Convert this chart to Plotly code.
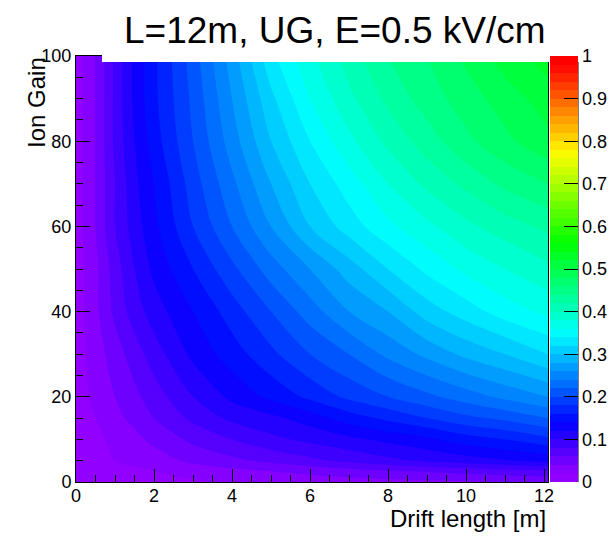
import colorsys
import plotly.graph_objects as go

# ---- data ----
drift_length = [0, 0.5, 1, 1.5, 2, 3, 4, 5, 6, 7, 8, 9, 10, 11, 12.1]   # m
ion_gain = [0, 2.5, 5, 10, 15, 20, 30, 40, 50, 60, 70, 80, 90, 100]
row_g0 = [0.005, 0.008, 0.01, 0.012, 0.015, 0.018, 0.021, 0.024, 0.027, 0.03, 0.033, 0.035, 0.037, 0.04, 0.042]
row_g2 = [0.007, 0.01, 0.013, 0.016, 0.02, 0.027, 0.034, 0.04, 0.046, 0.052, 0.057, 0.062, 0.067, 0.072, 0.077]
row_g5 = [0.008, 0.013, 0.02, 0.025, 0.03, 0.045, 0.055, 0.065, 0.075, 0.085, 0.095, 0.103, 0.11, 0.118, 0.125]
row_g10 = [0.01, 0.015, 0.025, 0.035, 0.045, 0.065, 0.08, 0.095, 0.105, 0.115, 0.125, 0.135, 0.15, 0.16, 0.175]
row_g15 = [0.01, 0.02, 0.035, 0.045, 0.06, 0.085, 0.105, 0.115, 0.13, 0.15, 0.165, 0.18, 0.195, 0.205, 0.22]
row_g20 = [0.01, 0.025, 0.04, 0.055, 0.07, 0.10, 0.125, 0.145, 0.165, 0.185, 0.20, 0.215, 0.23, 0.245, 0.26]
row_g30 = [0.01, 0.03, 0.05, 0.07, 0.09, 0.125, 0.15, 0.175, 0.20, 0.22, 0.245, 0.265, 0.285, 0.30, 0.32]
row_g40 = [0.01, 0.035, 0.065, 0.09, 0.11, 0.14, 0.17, 0.20, 0.23, 0.26, 0.28, 0.31, 0.33, 0.35, 0.365]
row_g50 = [0.01, 0.035, 0.07, 0.10, 0.125, 0.16, 0.195, 0.23, 0.26, 0.29, 0.32, 0.345, 0.365, 0.38, 0.395]
row_g60 = [0.01, 0.04, 0.08, 0.11, 0.135, 0.18, 0.22, 0.26, 0.30, 0.33, 0.355, 0.375, 0.395, 0.41, 0.425]
row_g70 = [0.01, 0.04, 0.08, 0.115, 0.14, 0.19, 0.235, 0.28, 0.32, 0.35, 0.38, 0.405, 0.425, 0.445, 0.46]
row_g80 = [0.01, 0.04, 0.085, 0.12, 0.15, 0.20, 0.25, 0.30, 0.34, 0.375, 0.405, 0.43, 0.455, 0.475, 0.495]
row_g90 = [0.01, 0.04, 0.085, 0.125, 0.155, 0.205, 0.26, 0.315, 0.36, 0.395, 0.425, 0.45, 0.47, 0.49, 0.51]
row_g100 = [0.01, 0.04, 0.085, 0.125, 0.155, 0.21, 0.27, 0.335, 0.375, 0.41, 0.44, 0.46, 0.485, 0.51, 0.53]
z_rows = [row_g0, row_g2, row_g5, row_g10, row_g15, row_g20, row_g30, row_g40,
          row_g50, row_g60, row_g70, row_g80, row_g90, row_g100]

title_text = "L=12m, UG, E=0.5 kV/cm"
x_title = "Drift length [m]"
y_title = "Ion Gain"

# ---- ROOT "pretty" palette (50 colours, violet -> red) ----
n_col = 50
palette = []
for i in range(n_col):
    hue = 0.0 if i == n_col - 1 else 280 - (i + 1) * 280 / n_col
    r, g, b = colorsys.hls_to_rgb(hue / 360.0, 0.5, 1.0)
    palette.append(f"rgb({round(r*255)},{round(g*255)},{round(b*255)})")
nlev = n_col + 1
cscale = [[0.0, palette[0]]]
for k in range(n_col):
    cscale.append([(k + 1) / nlev, palette[k]])
cscale.append([1.0, palette[-1]])

W, H = 612, 541
L, R, T, B = 76, 64, 56, 59
pw, ph = W - L - R, H - T - B

def px(xp):
    return (xp - L) / pw

def py(yp):
    return (H - B - yp) / ph

FONT = "Liberation Sans, Arial, Helvetica, sans-serif"

fig = go.Figure(go.Contour(
    x=drift_length, y=ion_gain, z=z_rows,
    autocontour=False,
    contours=dict(start=0, end=1, size=0.02, coloring="fill", showlines=False),
    line=dict(width=0, smoothing=1.0),
    colorscale=cscale, zmin=0, zmax=1,
    colorbar=dict(
        x=px(550), xanchor="left", xpad=0,
        y=1, yanchor="top", ypad=0, yref="paper",
        len=ph, lenmode="pixels", thickness=28, thicknessmode="pixels",
        outlinewidth=0,
        tickmode="linear", tick0=0, dtick=0.1,
        ticks="inside", ticklen=14, tickcolor="black", tickwidth=1,
        tickfont=dict(family=FONT, size=18, color="black"),
    ),
))

fig.update_layout(
    width=W, height=H,
    margin=dict(l=L, r=R, t=T, b=B, pad=0, autoexpand=False),
    paper_bgcolor="white", plot_bgcolor="white",
    showlegend=False,
    xaxis=dict(range=[0, 12.1], tickmode="linear", tick0=0, dtick=2,
               ticks="inside", ticklen=13, tickcolor="black",
               minor=dict(ticks="inside", ticklen=7, dtick=0.5, tick0=0, tickcolor="black"),
               showline=True, linecolor="black", linewidth=1, mirror=True,
               showgrid=False, zeroline=False, ticklabelstandoff=-3,
               tickfont=dict(family=FONT, size=18, color="black")),
    yaxis=dict(range=[0, 100], tickmode="linear", tick0=0, dtick=20,
               ticks="inside", ticklen=14, tickcolor="black",
               minor=dict(ticks="inside", ticklen=7, dtick=5, tick0=0, tickcolor="black"),
               showline=True, linecolor="black", linewidth=1, mirror=True,
               showgrid=False, zeroline=False,
               tickfont=dict(family=FONT, size=18, color="black")),
    shapes=[
        dict(type="rect", xref="paper", yref="paper", layer="above",
             x0=px(102), x1=px(570), y0=py(62), y1=py(-20),
             fillcolor="white", line=dict(width=0)),
        dict(type="line", xref="paper", yref="paper", layer="above",
             x0=px(578), x1=px(578), y0=py(482), y1=py(62),
             line=dict(color="black", width=1)),
    ],
    annotations=[
        dict(text=title_text, xref="paper", yref="paper",
             x=px(335), y=py(31), xanchor="center", yanchor="middle",
             showarrow=False, font=dict(family=FONT, size=37, color="black")),
        dict(text=x_title, xref="paper", yref="paper",
             x=px(548), y=py(503), xanchor="right", yanchor="top",
             showarrow=False, font=dict(family=FONT, size=24, color="black")),
        dict(text=y_title, xref="paper", yref="paper", textangle=-90,
             x=px(21), y=py(55), xanchor="left", yanchor="top",
             showarrow=False, font=dict(family=FONT, size=24, color="black")),
    ],
)

fig.write_html("out.html")
